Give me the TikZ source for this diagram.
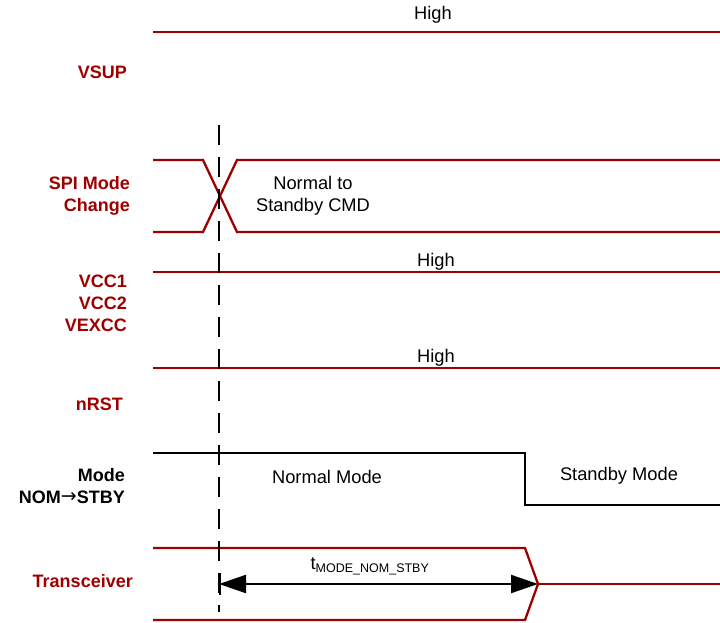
\documentclass[tikz,border=0pt]{standalone}
\usepackage{fontspec}
\setmainfont{Liberation Sans}
\usetikzlibrary{arrows.meta}
\definecolor{sigred}{HTML}{9E0000}
\tikzset{
  sig/.style={draw=sigred, line width=2.3pt, line join=miter},
  blk/.style={draw=black, line width=2.2pt},
  lbl/.style={text=sigred, font=\fontsize{18}{22}\selectfont\bfseries, align=right, anchor=east, inner sep=0pt},
  blbl/.style={text=black, font=\fontsize{18}{22}\selectfont\bfseries, align=right, anchor=east, inner sep=0pt},
  txt/.style={font=\fontsize{18.3}{22}\selectfont, inner sep=0pt, align=center},
  marker/.style={draw=black, line width=2.3pt, dash pattern=on 20pt off 12pt},
}
\begin{document}
\begin{tikzpicture}[x=1pt,y=-1pt]
\useasboundingbox (0,0) rectangle (720,623);
% VSUP
\draw[sig] (153,32) -- (720,32);
\node[txt] (vsuphigh) at (433,15) {High};
\node[lbl] (vsup) at (127,72) {VSUP};
% SPI mode change
\draw[sig] (153,160) -- (203,160) -- (237,232) -- (720,232);
\draw[sig] (153,232) -- (203,232) -- (237,160) -- (720,160);
\node[txt] (cmd) at (313,196) {Normal to\\Standby CMD};
\node[lbl] (spi) at (130,196) {SPI Mode\\Change};
% VCC
\draw[sig] (153,272) -- (720,272);
\node[txt] (vcchigh) at (436,262) {High};
\node[lbl] (vcc) at (127,303) {VCC1\\VCC2\\VEXCC};
% nRST
\draw[sig] (153,368) -- (720,368);
\node[txt] (nrsthigh) at (436,358) {High};
\node[lbl] (nrst) at (123,404) {nRST};
% Mode
\draw[blk] (153,453) -- (525,453) -- (525,505) -- (720,505);
\node[txt] (normal) at (327,477) {Normal Mode};
\node[txt] (standby) at (619,476) {Standby Mode};
\node[blbl] (mode) at (125,486) {Mode\\NOM{\fontspec{DejaVu Sans}\mdseries\fontsize{19}{20}\selectfont\raisebox{0.5pt}{→}}STBY};
% Transceiver
\draw[sig] (153,548) -- (525,548) -- (538,584) -- (525,620) -- (153,620);
\draw[sig] (538,584) -- (720,584);
\node[lbl] (trx) at (133,581) {Transceiver};
% dashed marker
\coordinate (mtop) at (219,125);
\coordinate (mbot) at (219,612);
\draw[marker] (mtop) -- (mbot);
% timing arrow
\coordinate (a1) at (219,584);
\coordinate (a2) at (538,584);
\draw[line width=2.2pt, {Triangle[length=27pt,width=18pt]}-{Triangle[length=27pt,width=18pt]}] (a1) -- (a2);
\draw[line width=2.3pt] (220,573) -- (220,595);
\node[font=\fontsize{18.3}{20}\selectfont, inner sep=0pt] (tlbl) at (370,566) {t\textsubscript{\fontsize{12.5}{14}\selectfont MODE\_NOM\_STBY}};
\end{tikzpicture}
\end{document}
